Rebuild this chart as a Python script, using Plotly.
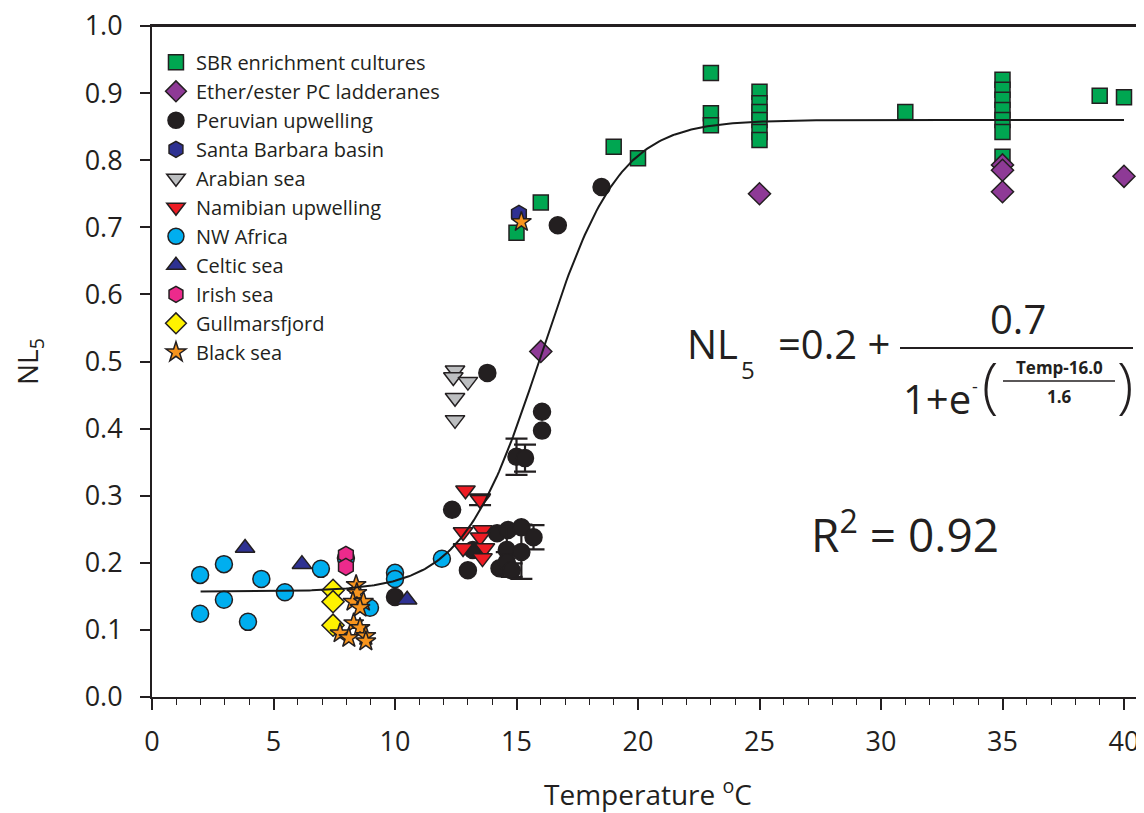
import numpy as np
import plotly.graph_objects as go

# ---------------- data ----------------
sbr_x = [15.0, 16.0, 19.0, 20.0, 23.0, 23.0, 23.0, 25.0, 25.0, 25.0, 25.0, 25.0, 25.0,
         31.0, 35.0, 35.0, 35.0, 35.0, 35.0, 35.0, 35.0, 39.0, 40.0]
sbr_y = [0.692, 0.737, 0.820, 0.803, 0.930, 0.870, 0.852, 0.902, 0.885, 0.872, 0.860, 0.842, 0.830,
         0.872, 0.920, 0.905, 0.890, 0.875, 0.860, 0.842, 0.805, 0.896, 0.894]

pc_x = [16.0, 25.0, 35.0, 35.0, 35.0, 40.0]
pc_y = [0.515, 0.750, 0.793, 0.785, 0.753, 0.776]

# Peruvian upwelling: points without and with error bars
peru_x = [18.5, 16.7, 13.8, 16.05, 16.05, 12.35, 14.2, 14.65, 13.2, 13.0, 14.3, 10.0]
peru_y = [0.760, 0.703, 0.483, 0.425, 0.397, 0.279, 0.244, 0.249, 0.219, 0.189, 0.192, 0.149]
peru_eb_x = [15.0, 15.35, 15.2, 15.7, 14.6, 15.2, 14.6, 14.8]
peru_eb_y = [0.358, 0.356, 0.253, 0.238, 0.219, 0.216, 0.201, 0.189]
peru_eb_err = [0.027, 0.020, 0.004, 0.018, 0.035, 0.040, 0.015, 0.010]

sb_x = [15.1]
sb_y = [0.720]

arab_x = [12.47, 12.4, 13.0, 12.47, 12.47]
arab_y = [0.487, 0.477, 0.470, 0.446, 0.413]

nam_x = [12.9, 12.8, 13.6, 13.5, 12.8, 13.7, 13.6]
nam_y = [0.308, 0.246, 0.249, 0.238, 0.222, 0.222, 0.207]
nam_eb_x = [13.5]
nam_eb_y = [0.294]
nam_eb_err = [0.008]

nwa_x = [1.98, 2.96, 1.98, 2.96, 3.95, 4.5, 5.47, 6.95, 7.98, 10.0, 10.0, 8.97, 11.93]
nwa_y = [0.182, 0.198, 0.124, 0.145, 0.112, 0.176, 0.156, 0.191, 0.207, 0.185, 0.176, 0.133, 0.206]

celt_x = [3.83, 6.17, 10.5]
celt_y = [0.222, 0.198, 0.145]

irish_x = [7.98, 7.98]
irish_y = [0.212, 0.194]

gull_x = [7.45, 7.45, 7.45]
gull_y = [0.159, 0.142, 0.107]

bsea_x = [8.4, 8.43, 8.27, 8.7, 8.56, 8.3, 8.56, 7.74, 8.1, 8.8, 8.8, 15.2]
bsea_y = [0.167, 0.155, 0.142, 0.142, 0.133, 0.110, 0.103, 0.095, 0.088, 0.091, 0.083, 0.708]

# fitted sigmoid (as drawn)
fit_base, fit_amp, fit_mid, fit_width = 0.157, 0.703, 16.0, 1.6
fit_x = np.linspace(2, 40, 400)
fit_y = fit_base + fit_amp / (1 + np.exp(-(fit_x - fit_mid) / fit_width))

x_ticks = [0, 5, 10, 15, 20, 25, 30, 35, 40]
y_ticks = [0.0, 0.1, 0.2, 0.3, 0.4, 0.5, 0.6, 0.7, 0.8, 0.9, 1.0]

# ---------------- figure ----------------
OUT = "#231F20"
FONT = "Open Sans"
fig = go.Figure()

def add(name, xs, ys, symbol, color, size, err=None, legend=True):
    kw = {}
    if err is not None:
        kw["error_y"] = dict(type="data", array=err, visible=True, color="#231F20",
                             thickness=2.2, width=11)
    fig.add_trace(go.Scatter(
        x=xs, y=ys, mode="markers", name=name, legendgroup=name, showlegend=legend,
        marker=dict(symbol=symbol, color=color, size=size,
                    line=dict(color=OUT, width=1.5)),
        **kw))

add("SBR enrichment cultures", sbr_x, sbr_y, "square", "#00A651", 15)
add("Ether/ester PC ladderanes", pc_x, pc_y, "diamond", "#8E3A96", 17)
add("Peruvian upwelling", peru_x, peru_y, "circle", "#231F20", 17)
add("Peruvian upwelling", peru_eb_x, peru_eb_y, "circle", "#231F20", 17, peru_eb_err, legend=False)
add("Santa Barbara basin", sb_x, sb_y, "hexagon", "#2E3192", 17)
add("Arabian sea", arab_x, arab_y, "triangle-down", "#BCBEC0", 17)
add("Namibian upwelling", nam_x, nam_y, "triangle-down", "#ED1C24", 17)
add("Namibian upwelling", nam_eb_x, nam_eb_y, "triangle-down", "#ED1C24", 17, nam_eb_err, legend=False)
add("NW Africa", nwa_x, nwa_y, "circle", "#00AEEF", 17)
add("Celtic sea", celt_x, celt_y, "triangle-up", "#2E3192", 17)
add("Irish sea", irish_x, irish_y, "hexagon", "#EC2A8C", 17)
add("Gullmarsfjord", gull_x, gull_y, "diamond", "#FFF200", 17)
add("Black sea", bsea_x, bsea_y, "star", "#F7941D", 15)

fig.add_trace(go.Scatter(x=fit_x, y=fit_y, mode="lines", line=dict(color="#1a1a1a", width=2),
                         showlegend=False, hoverinfo="skip"))

# page body has an 8px margin, so the figure is drawn 8px in from the window corner
W, H = 1136, 805
L, R, T, B = 144, 0, 18, 116
SX0, SX1, SY0, SY1 = 152, 1144, 26, 697  # plot area in window pixels

def px(x):
    return (x - SX0) / (SX1 - SX0)

def py(y):
    return (SY1 - y) / (SY1 - SY0)

ann = []
def txt(t, x, y, size, xanchor="center", bold=False, weight=None):
    f = dict(family=FONT, size=size, color="#231F20")
    if weight:
        f["weight"] = weight
    ann.append(dict(text=("<b>%s</b>" % t) if bold else t, x=px(x), y=py(y), xref="paper", yref="paper",
                    xanchor=xanchor, yanchor="middle", showarrow=False, font=f))

txt("NL", 685, 343, 40, "left")
txt("5", 748, 369, 24)
txt("=0.2 +", 776, 343, 40, "left")
txt("0.7", 1018, 318, 40)
txt("1+e", 901, 398, 40, "left")
txt("-", 975, 386, 18)
txt("(", 990, 384, 60, weight=300)
txt(")", 1125, 384, 60, weight=300)
txt("Temp-16.0", 1059, 367, 17, bold=True)
txt("1.6", 1059, 397, 17, bold=True)
txt("R<sup>2</sup> = 0.92", 905, 532, 46)

shapes = [
    dict(type="line", xref="paper", yref="paper", x0=px(900), x1=px(1133), y0=py(348), y1=py(348),
         line=dict(color="#231F20", width=2)),
    dict(type="line", xref="paper", yref="paper", x0=px(1003), x1=px(1115), y0=py(381), y1=py(381),
         line=dict(color="#231F20", width=1.5)),
    # top frame line of the plot box
    dict(type="line", xref="paper", yref="paper", x0=0, x1=1, y0=1, y1=1,
         line=dict(color="#231F20", width=2)),
]

fig.update_layout(
    width=W, height=H,
    margin=dict(l=L, r=R, t=T, b=B),
    paper_bgcolor="white", plot_bgcolor="white",
    font=dict(family=FONT, color="#231F20"),
    annotations=ann, shapes=shapes,
    legend=dict(x=0.004, y=0.975, xanchor="left", yanchor="top", bgcolor="rgba(0,0,0,0)",
                font=dict(family=FONT, size=20, color="#231F20"), tracegroupgap=0,
                itemsizing="trace"),
    xaxis=dict(range=[0, 40 * (SX1 - SX0) / 972], tickvals=x_ticks, ticks="outside", ticklen=11,
               tickwidth=1.5, tickcolor="#231F20", showline=True, linecolor="#231F20", linewidth=2,
               mirror=True, showgrid=False, zeroline=False, tickfont=dict(size=27), ticklabelstandoff=9,
               automargin=False, ticklabeloverflow="allow",
               minor=dict(dtick=1, ticks="outside", ticklen=6, tickcolor="#231F20", tickwidth=1),
               title=dict(text="Temperature <sup>o</sup>C", font=dict(size=28), standoff=27)),
    yaxis=dict(range=[0, 1.0], tickvals=y_ticks, tickformat=".1f", ticks="outside", ticklen=10,
               tickwidth=1.5, tickcolor="#231F20", showline=True, linecolor="#231F20", linewidth=2,
               showgrid=False, zeroline=False, tickfont=dict(size=27), ticklabelstandoff=12,
               automargin=False, ticklabeloverflow="allow",
               title=dict(text="NL<sub>5</sub>", font=dict(size=28), standoff=39)),
)

fig.write_html("out.html")
